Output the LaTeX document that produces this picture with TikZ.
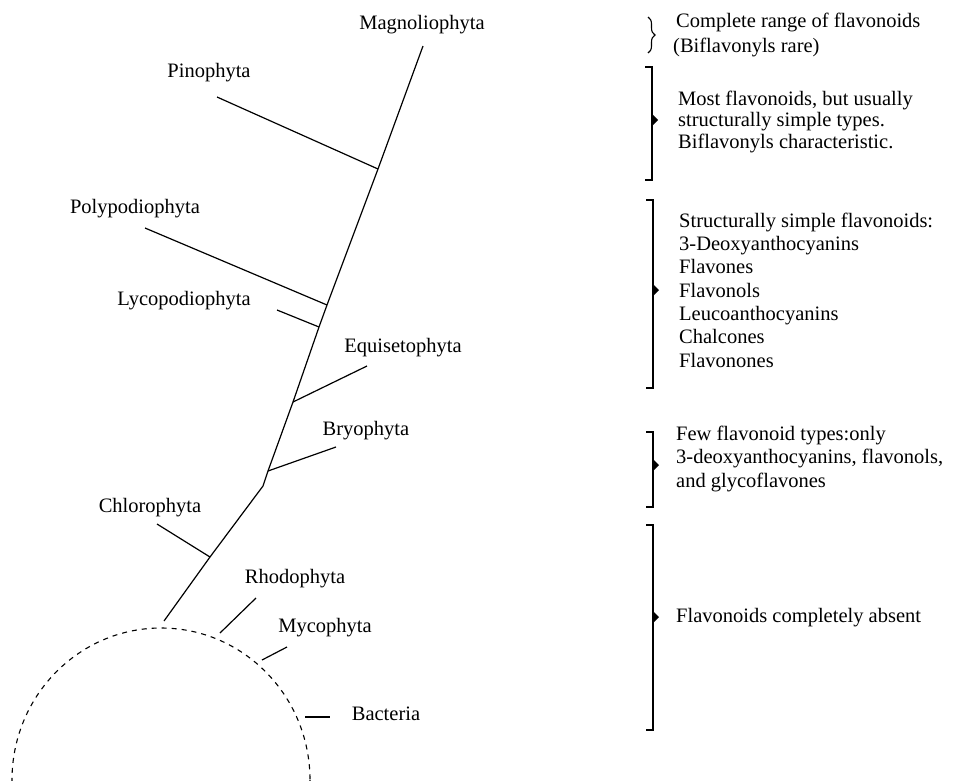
\documentclass[tikz,border=0pt]{standalone}
\usepackage{fontspec}
\setmainfont{Liberation Serif}
\usetikzlibrary{decorations.pathreplacing}
\begin{document}
\begin{tikzpicture}[x=1pt,y=-1pt,
  lbl/.style={inner sep=0pt, anchor=base, font=\fontsize{20.5}{24}\selectfont},
  txt/.style={inner sep=0pt, anchor=base west, font=\fontsize{20.5}{24}\selectfont},
  branch/.style={line width=1.2pt},
  brk/.style={line width=1.1pt},
  tip/.style={fill=black},
]
\useasboundingbox (0,0) rectangle (954,780);

% trunk coordinates
\coordinate (top) at (423,46);
\coordinate (jPino) at (378,169);
\coordinate (jPoly) at (327,305);
\coordinate (jLyco) at (319,327);
\coordinate (jEqui) at (293,402);
\coordinate (jBryo) at (268,471);
\coordinate (kink) at (263,486);
\coordinate (jChloro) at (210,557);
\coordinate (base) at (164,621);
% branch ends
\coordinate (ePino) at (217,97);
\coordinate (ePoly) at (145,228);
\coordinate (eLyco) at (277,310);
\coordinate (eEqui) at (367,366);
\coordinate (eBryo) at (336,447);
\coordinate (eChloro) at (157,524);
\coordinate (sRhodo) at (220,633);
\coordinate (eRhodo) at (256,598);
\coordinate (sMyco) at (262,660);
\coordinate (eMyco) at (287,647);
\coordinate (sBact) at (305,717);
\coordinate (eBact) at (330,717);

\draw[branch] (top) -- (jPino) -- (jPoly) -- (jLyco) -- (jEqui) -- (jBryo) -- (kink) -- (jChloro) -- (base);
\draw[branch] (jPino) -- (ePino);
\draw[branch] (jPoly) -- (ePoly);
\draw[branch] (jLyco) -- (eLyco);
\draw[branch] (jEqui) -- (eEqui);
\draw[branch] (jBryo) -- (eBryo);
\draw[branch] (jChloro) -- (eChloro);
\draw[branch] (sRhodo) -- (eRhodo);
\draw[branch] (sMyco) -- (eMyco);
\draw[branch] (sBact) -- (eBact);

\begin{scope}
\clip (0,0) rectangle (954,780);
\draw[line width=1.1pt, dash pattern=on 5pt off 5pt] (161,780) ellipse[x radius=149, y radius=152];
\end{scope}

% taxon labels
\node[lbl] (magno) at (422,29.5) {Magnoliophyta};
\node[lbl] (pino) at (209,77.5) {Pinophyta};
\node[lbl] (poly) at (135,213.5) {Polypodiophyta};
\node[lbl] (lyco) at (184,305.5) {Lycopodiophyta};
\node[lbl] (equi) at (403,352.5) {Equisetophyta};
\node[lbl] (bryo) at (366,435.5) {Bryophyta};
\node[lbl] (chloro) at (150,512.5) {Chlorophyta};
\node[lbl] (rhodo) at (295,583.5) {Rhodophyta};
\node[lbl] (myco) at (325,632.5) {Mycophyta};
\node[lbl] (bact) at (386,720.5) {Bacteria};

% brackets
\draw[brk, decorate, decoration={brace, amplitude=7pt}] (648,17) -- (648,53);
\draw[brk] (645,67) -- (652,67) -- (652,180) -- (645,180);
\fill[tip] (652,114) -- (658,120) -- (652,126) -- cycle;
\draw[brk] (646,200) -- (653,200) -- (653,388) -- (646,388);
\fill[tip] (653,284) -- (659,290) -- (653,296) -- cycle;
\draw[brk] (646,432) -- (653,432) -- (653,507) -- (646,507);
\fill[tip] (653,459) -- (659,465) -- (653,471) -- cycle;
\draw[brk] (646,525) -- (653,525) -- (653,730) -- (646,730);
\fill[tip] (653,611) -- (659,617) -- (653,623) -- cycle;

% descriptions
\node[txt] (d1a) at (676,27.5) {Complete range of flavonoids};
\node[txt] (d1b) at (673,52.5) {(Biflavonyls rare)};
\node[txt] (d2a) at (678,105.5) {Most flavonoids, but usually};
\node[txt] (d2b) at (678,126.5) {structurally simple types.};
\node[txt] (d2c) at (678,148.5) {Biflavonyls characteristic.};
\node[txt] (d3a) at (679,227.5) {Structurally simple flavonoids:};
\node[txt] (d3b) at (679,250.5) {3-Deoxyanthocyanins};
\node[txt] (d3c) at (679,273.5) {Flavones};
\node[txt] (d3d) at (679,297.5) {Flavonols};
\node[txt] (d3e) at (679,320.5) {Leucoanthocyanins};
\node[txt] (d3f) at (679,343.5) {Chalcones};
\node[txt] (d3g) at (679,367.5) {Flavonones};
\node[txt] (d4a) at (676,440.5) {Few flavonoid types:only};
\node[txt] (d4b) at (676,463.5) {3-deoxyanthocyanins, flavonols,};
\node[txt] (d4c) at (676,487.5) {and glycoflavones};
\node[txt] (d5) at (676,622.5) {Flavonoids completely absent};
\end{tikzpicture}
\end{document}
